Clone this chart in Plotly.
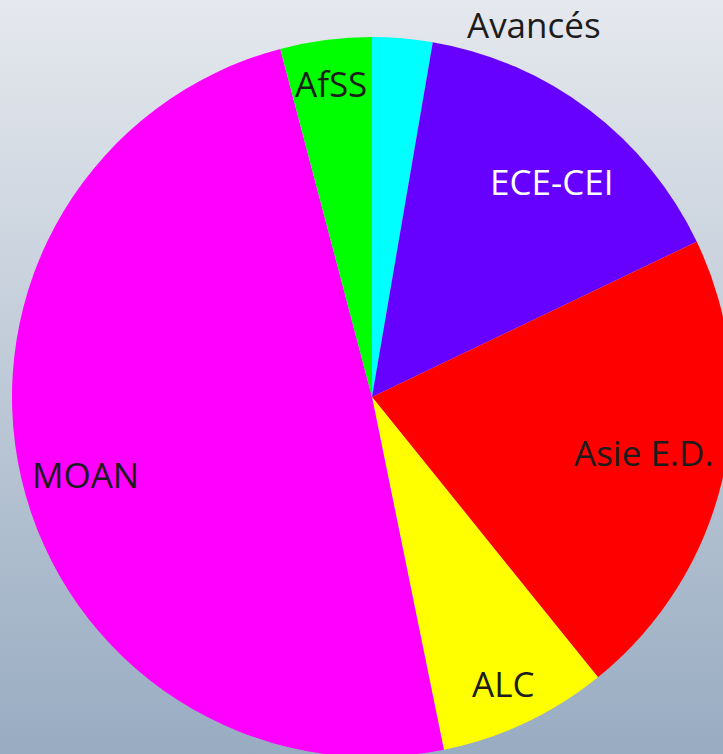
import math
import plotly.graph_objects as go

labels = ["Avancés", "ECE-CEI", "Asie E.D.", "ALC", "MOAN", "AfSS"]
values = [2.7, 15.2, 21.3, 7.6, 49.1, 4.1]
colors = ["#00FFFF", "#6600FF", "#FF0000", "#FFFF00", "#FF00FF", "#00FF00"]
text_colors = ["#1c1c1c", "#FFFFFF", "#1c1c1c", "#1c1c1c", "#1c1c1c", "#1c1c1c"]

# label placement style: radial fraction of the radius, and angular nudge (deg)
label_r = [1.128, 0.78, 0.77, 0.876, 0.825, 0.877]
label_dtheta = [18.6, 2.7, -1.3, 0.7, -1.9, 0.0]

FONT = "Open Sans, Noto Sans, sans-serif"

fig = go.Figure(go.Pie(
    labels=labels,
    values=values,
    marker=dict(colors=colors, line=dict(width=0)),
    sort=False,
    direction="clockwise",
    rotation=0,
    textinfo="none",
    hoverinfo="label+percent",
    showlegend=False,
))

total = sum(values)
annotations = []
cum = 0.0
for lab, v, col, rf, dth in zip(labels, values, text_colors, label_r, label_dtheta):
    mid = (cum + v / 2) / total * 360.0 + dth
    cum += v
    th = math.radians(mid)
    annotations.append(dict(
        text=lab, xref="paper", yref="paper",
        x=0.5 + 0.5 * rf * math.sin(th), y=0.5 + 0.5 * rf * math.cos(th),
        xanchor="center", yanchor="middle", showarrow=False,
        font=dict(family=FONT, size=35, color=col),
    ))

bg_svg = (
    "data:image/svg+xml;utf8,"
    "<svg xmlns='http://www.w3.org/2000/svg' width='100' height='100' preserveAspectRatio='none'>"
    "<defs><linearGradient id='g' x1='0' y1='0' x2='0' y2='1'>"
    "<stop offset='0' stop-color='%23E6E9EE'/><stop offset='1' stop-color='%2397ABC1'/>"
    "</linearGradient></defs><rect width='100' height='100' fill='url(%23g)'/></svg>"
)

fig.update_layout(
    width=732,
    height=757,
    margin=dict(l=12, r=0, t=37, b=0, autoexpand=False),
    paper_bgcolor="#C0CAD6",
    plot_bgcolor="rgba(0,0,0,0)",
    annotations=annotations,
    images=[dict(
        source=bg_svg, xref="paper", yref="paper", x=-0.02, y=1.06,
        sizex=1.04, sizey=1.07, sizing="stretch", layer="below",
        xanchor="left", yanchor="top",
    )],
)

fig.write_html(
    "out.html",
    config={"displayModeBar": False},
    post_script="document.body.style.margin='0';document.body.style.overflow='hidden';document.documentElement.style.overflow='hidden';",
)
